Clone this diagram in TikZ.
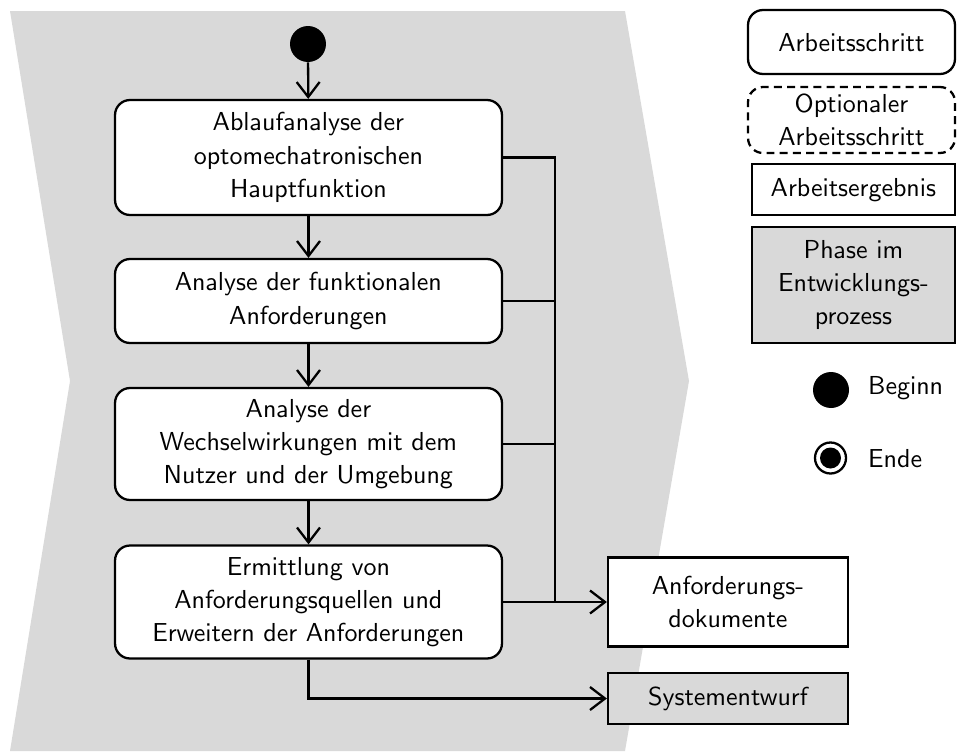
\documentclass[tikz,border=0pt]{standalone}
\usepackage{tikz}
\usetikzlibrary{arrows.meta,positioning,calc}
\font\figfont=cmss10 at 14.8pt

\begin{document}
\begin{tikzpicture}[
  x=0.02cm,y=-0.02cm,
  font={\figfont\baselineskip=18.8pt\relax},
  flow/.style={-{Straight Barb[length=3mm,width=4.6mm]},line width=1.3pt},
  link/.style={line width=1.3pt},
  stepbox/.style={draw,line width=1.3pt,rounded corners=3mm,fill=white,align=center,inner sep=2pt},
  optbox/.style={stepbox,dash pattern=on 4.5pt off 3pt},
  resultbox/.style={draw,line width=1.3pt,fill=white,align=center,inner sep=2pt},
  phasebox/.style={resultbox,fill=black!15},
  startdot/.style={circle,fill=black,inner sep=0pt,minimum size=0.72cm}
]
  \useasboundingbox (0,0) rectangle (957,754);

  % phase background
  \fill[black!15] (10,11) -- (625,11) -- (689,381) -- (625,751) -- (10,751) -- (70,381) -- cycle;

  % flow
  \node[startdot] (start) at (308,44) {};
  \node[stepbox,minimum width=7.74cm,minimum height=2.3cm] (b1) at (308.5,157.5)
    {Ablaufanalyse der\\optomechatronischen\\Hauptfunktion};
  \node[stepbox,minimum width=7.74cm,minimum height=1.68cm] (b2) at (308.5,301)
    {Analyse der funktionalen\\Anforderungen};
  \node[stepbox,minimum width=7.74cm,minimum height=2.24cm] (b3) at (308.5,444)
    {Analyse der\\Wechselwirkungen mit dem\\Nutzer und der Umgebung};
  \node[stepbox,minimum width=7.74cm,minimum height=2.26cm] (b4) at (308.5,602)
    {Ermittlung von\\Anforderungsquellen und\\Erweitern der Anforderungen};
  \node[resultbox,minimum width=4.8cm,minimum height=1.78cm] (doc) at (728,602)
    {Anforderungs-\\dokumente};
  \node[phasebox,minimum width=4.8cm,minimum height=1.02cm] (sys) at (728,698.5)
    {Systementwurf};

  \draw[flow] (start) -- (b1);
  \draw[flow] (b1) -- (b2);
  \draw[flow] (b2) -- (b3);
  \draw[flow] (b3) -- (b4);

  \coordinate (bus) at (555,602);
  \draw[link] (b1.east) -| (bus);
  \draw[link] (b2.east) -- (b2.east -| bus);
  \draw[link] (b3.east) -- (b3.east -| bus);
  \draw[flow] (b4.east) -- (doc.west);
  \draw[flow] (b4.south) |- (sys.west);

  % legend
  \node[stepbox,minimum width=4.14cm,minimum height=1.28cm] (lstep) at (851.5,42) {Arbeitsschritt};
  \node[optbox,minimum width=4.14cm,minimum height=1.32cm] (lopt) at (851.5,120) {Optionaler\\Arbeitsschritt};
  \node[resultbox,minimum width=4.06cm,minimum height=1.02cm] (lres) at (853.5,189.5) {Arbeitsergebnis};
  \node[phasebox,minimum width=4.06cm,minimum height=2.32cm] (lphase) at (853.5,285) {Phase im\\Entwicklungs-\\prozess};

  \node[startdot] (lbegin) at (831,390) {};
  \node[anchor=west] (lbegintxt) at (862,388) {Beginn};
  \node[circle,draw,line width=1.3pt,fill=white,minimum size=0.62cm,inner sep=0pt] (lend) at (830.5,458) {};
  \fill (lend.center) circle (0.21cm);
  \node[anchor=west] (lendtxt) at (862,458) {Ende};
\end{tikzpicture}
\end{document}
